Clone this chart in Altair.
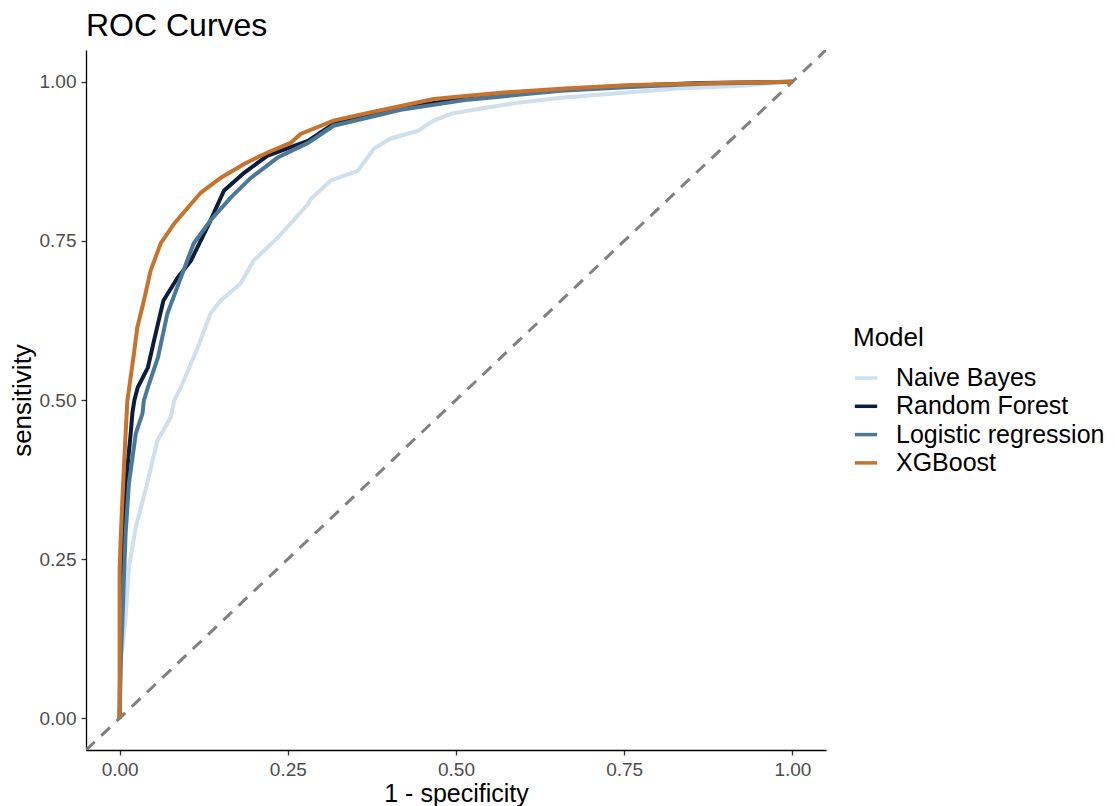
import altair as alt
import pandas as pd

models = ["Naive Bayes", "Random Forest", "Logistic regression", "XGBoost"]
colors = ["#cfdfeb", "#0b1c3d", "#4c7898", "#c5732d"]

nb_fpr = [0.0, 0.001, 0.0064, 0.0089, 0.0138, 0.024, 0.041, 0.056, 0.076, 0.081, 0.091, 0.116, 0.135,
          0.150, 0.180, 0.199, 0.235, 0.280, 0.284, 0.314, 0.354, 0.378, 0.403, 0.443, 0.467, 0.493,
          0.542, 0.592, 0.656, 0.726, 0.824, 0.924, 1.0]
nb_tpr = [0.0, 0.08, 0.133, 0.159, 0.237, 0.300, 0.369, 0.436, 0.473, 0.499, 0.520, 0.582, 0.636,
          0.656, 0.683, 0.719, 0.755, 0.808, 0.816, 0.845, 0.860, 0.895, 0.911, 0.923, 0.939, 0.950,
          0.959, 0.967, 0.975, 0.981, 0.989, 0.994, 1.0]

rf_fpr = [0.0, 0.001, 0.004, 0.0064, 0.0115, 0.0164, 0.019, 0.022, 0.027, 0.042, 0.051, 0.065, 0.086,
          0.106, 0.118, 0.135, 0.155, 0.185, 0.220, 0.280, 0.318, 0.418, 0.518, 0.656, 0.760, 0.865, 1.0]
rf_tpr = [0.0, 0.12, 0.19, 0.29, 0.394, 0.447, 0.48, 0.50, 0.520, 0.551, 0.593, 0.656, 0.692,
          0.719, 0.745, 0.782, 0.829, 0.857, 0.884, 0.907, 0.934, 0.959, 0.975, 0.987, 0.994, 0.998, 1.0]

lr_fpr = [0.0, 0.002, 0.004, 0.0089, 0.0138, 0.024, 0.034, 0.036, 0.042, 0.057, 0.071, 0.110, 0.135,
          0.165, 0.195, 0.235, 0.280, 0.318, 0.418, 0.518, 0.656, 0.760, 0.865, 1.0]
lr_tpr = [0.0, 0.10, 0.15, 0.29, 0.369, 0.447, 0.479, 0.499, 0.520, 0.567, 0.636, 0.746, 0.782,
          0.818, 0.849, 0.881, 0.904, 0.931, 0.956, 0.972, 0.986, 0.992, 0.997, 1.0]

xgb_fpr = [0.0, 0.0, 0.0015, 0.004, 0.0064, 0.0089, 0.0115, 0.0213, 0.0263, 0.036, 0.046, 0.061,
           0.081, 0.106, 0.121, 0.150, 0.185, 0.220, 0.254, 0.269, 0.318, 0.369, 0.418, 0.467, 0.518,
           0.567, 0.656, 0.690, 0.760, 0.845, 0.920, 1.0]
xgb_tpr = [0.0, 0.232, 0.279, 0.342, 0.394, 0.447, 0.499, 0.573, 0.614, 0.656, 0.703, 0.746,
           0.777, 0.808, 0.826, 0.849, 0.871, 0.889, 0.904, 0.918, 0.939, 0.951, 0.962, 0.973, 0.978,
           0.983, 0.989, 0.991, 0.995, 0.997, 0.999, 1.0]

diag_x = [-0.05, 1.05]
diag_y = [-0.05, 1.05]
ticks = [0.0, 0.25, 0.5, 0.75, 1.0]

rows = []
for name, fx, ty in zip(models, [nb_fpr, rf_fpr, lr_fpr, xgb_fpr], [nb_tpr, rf_tpr, lr_tpr, xgb_tpr]):
    for i, (a, b) in enumerate(zip(fx, ty)):
        rows.append({"Model": name, "fpr": a, "tpr": b, "idx": i})
df = pd.DataFrame(rows)
diag = pd.DataFrame({"x": diag_x, "y": diag_y})

xs = alt.Scale(domain=[-0.05, 1.05], nice=False, zero=False)
ys = alt.Scale(domain=[-0.05, 1.05], nice=False, zero=False)

xaxis = alt.Axis(values=ticks, format=".2f", title="1 - specificity", grid=False, titlePadding=2,
                 titleFontSize=25)
yaxis = alt.Axis(values=ticks, format=".2f", title="sensitivity", grid=False, titlePadding=4)

diag_layer = alt.Chart(diag).mark_line(
    color="#808080", strokeWidth=3, strokeDash=[12, 9], clip=True
).encode(
    x=alt.X("x:Q", scale=xs, axis=xaxis),
    y=alt.Y("y:Q", scale=ys, axis=yaxis),
)

curves = alt.Chart(df).mark_line(strokeWidth=4, clip=True).encode(
    x=alt.X("fpr:Q", scale=xs, axis=xaxis),
    y=alt.Y("tpr:Q", scale=ys, axis=yaxis),
    color=alt.Color(
        "Model:N",
        scale=alt.Scale(domain=models, range=colors),
        sort=models,
        legend=alt.Legend(
            title="Model",
            orient="none",
            legendX=767,
            legendY=275,
            symbolType="stroke",
            symbolStrokeWidth=3.5,
            symbolSize=500,
            titleFontSize=26,
            titleFontWeight="normal",
            titleColor="black",
            titlePadding=14,
            labelFontSize=25,
            labelColor="black",
            labelOffset=17,
            labelLimit=0,
            rowPadding=2.3,
        ),
    ),
    order=alt.Order("idx:Q"),
)

chart = alt.layer(diag_layer, curves).properties(
    width=740,
    height=700,
    padding={"top": 2, "left": 1, "right": 0, "bottom": 0},
    title=alt.TitleParams("ROC Curves", anchor="start", frame="group", fontSize=32,
                          fontWeight="normal", color="black", offset=7),
).configure(
    font="Liberation Sans",
).configure_view(
    stroke=None,
).configure_axis(
    domainColor="black",
    domainWidth=1.3,
    tickColor="#333333",
    tickWidth=1.3,
    tickSize=5,
    labelColor="#4d4d4d",
    labelFontSize=19,
    labelPadding=5,
    titleFontSize=26,
    titleFontWeight="normal",
    titleColor="black",
)

chart.save("out.html", embed_options={"renderer": "svg", "actions": False})
